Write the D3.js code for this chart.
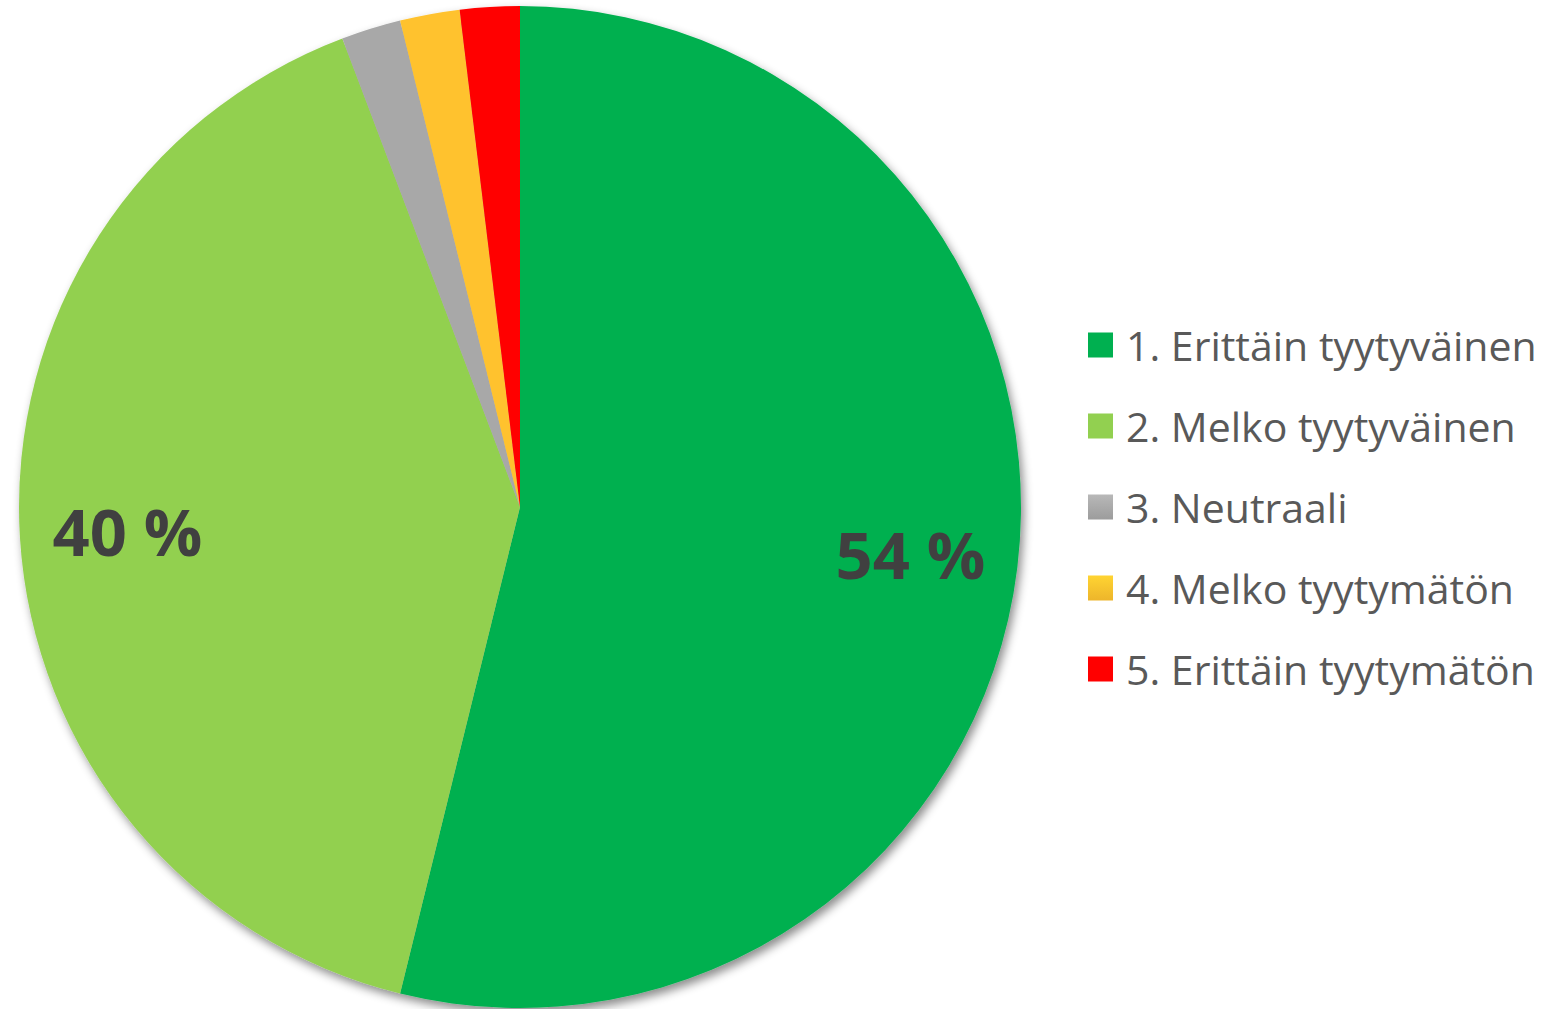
<!DOCTYPE html>
<html><head><meta charset="utf-8">
<script src="https://cdn.jsdelivr.net/npm/d3@7"></script>
<style>html,body{margin:0;padding:0;background:#fff;}svg{display:block;}</style>
</head><body>
<svg id="chart" width="1553" height="1009"></svg>
<script>
const categories = ["1. Erittäin tyytyväinen","2. Melko tyytyväinen","3. Neutraali","4. Melko tyytymätön","5. Erittäin tyytymätön"];
const values = [28, 21, 1, 1, 1];
const colors = ["#00B050","#92D050","#A8A8A8","#FFC22E","#FF0000"];
const labelMin = 0.05;

const svg = d3.select("#chart");
const cx = 520, cy = 507, R = 501;

const defs = svg.append("defs");
const f = defs.append("filter").attr("id","shadow").attr("x","-10%").attr("y","-10%").attr("width","120%").attr("height","120%");
f.append("feDropShadow").attr("dx",3).attr("dy",5).attr("stdDeviation",5).attr("flood-color","#000").attr("flood-opacity",0.45);

colors.forEach((c,i)=>{
  const g = defs.append("linearGradient").attr("id","lg"+i).attr("x1",0).attr("y1",0).attr("x2",0).attr("y2",1);
  g.append("stop").attr("offset","0%").attr("stop-color", d3.color(c).brighter(0.25));
  g.append("stop").attr("offset","100%").attr("stop-color", d3.color(c).darker(0.2));
});

const total = d3.sum(values);
const pie = d3.pie().sort(null).value(d=>d)(values);
const arc = d3.arc().innerRadius(0).outerRadius(R);
const labelArc = d3.arc().innerRadius(R*0.785).outerRadius(R*0.785);

const g = svg.append("g").attr("transform",`translate(${cx},${cy})`);
g.append("g").attr("filter","url(#shadow)")
  .selectAll("path").data(pie).join("path")
  .attr("d", arc).attr("fill",(d,i)=>colors[i]);

g.selectAll("text.lbl").data(pie.filter(d=>d.value/total>=labelMin)).join("text")
  .attr("class","lbl")
  .attr("transform", d=>`translate(${labelArc.centroid(d)})`)
  .attr("text-anchor","middle").attr("dominant-baseline","central")
  .attr("font-family","'Open Sans', sans-serif").attr("font-weight",700)
  .attr("font-size",65).attr("fill","#404040")
  .text(d=>Math.round(d.value/total*100)+" %");

const lg = svg.append("g").attr("transform","translate(1088,345)");
const rows = lg.selectAll("g").data(categories).join("g").attr("transform",(d,i)=>`translate(0,${i*81})`);
rows.append("rect").attr("x",0).attr("y",-12.5).attr("width",25).attr("height",25)
  .attr("fill",(d,i)=> (i===2||i===3) ? `url(#lg${i})` : colors[i]);
rows.append("text").attr("x",38).attr("y",0).attr("dominant-baseline","central")
  .attr("font-family","'Open Sans', sans-serif").attr("font-size",41).attr("fill","#595959")
  .text(d=>d);
</script>
</body></html>
